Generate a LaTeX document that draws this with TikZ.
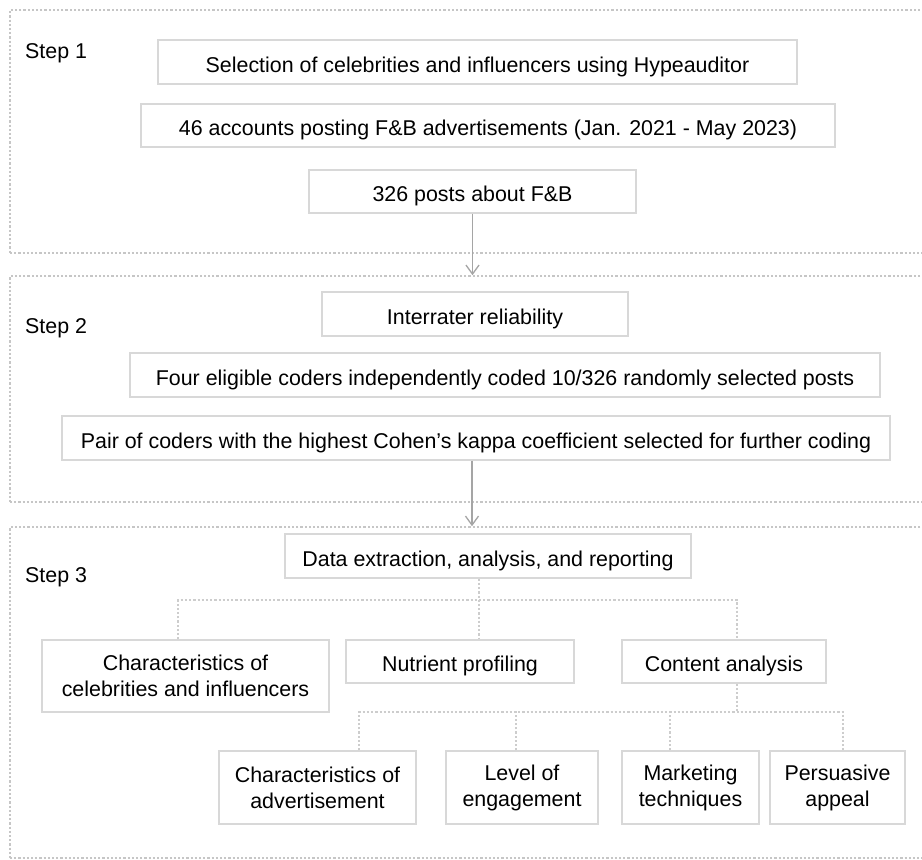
\documentclass[tikz,border=0pt]{standalone}
\usepackage{fontspec}
\setmainfont{Liberation Sans}
\usetikzlibrary{arrows.meta}
\definecolor{boxline}{RGB}{216,216,216}
\definecolor{frameline}{RGB}{198,198,198}
\definecolor{treeline}{RGB}{205,205,205}
\definecolor{arrline}{RGB}{165,165,165}
\tikzset{
  every node/.style={font=\fontsize{21.4}{26}\selectfont},
  stepbox/.style={draw=boxline, line width=1.4pt, fill=white, align=center, inner sep=0pt, text=black},
  oneline/.style={stepbox, text height=20pt, text depth=0pt},
  twoline/.style={stepbox},
  framebox/.style={draw=frameline, line width=1.6pt, dash pattern=on 2.2pt off 2pt, inner sep=0pt},
  treelink/.style={draw=treeline, line width=1.4pt, dash pattern=on 2.2pt off 2pt},
  arrowlink/.style={draw=arrline, line width=1.3pt, -{Straight Barb[length=9pt,width=13pt,line width=1.3pt]}},
  steplabel/.style={anchor=base west, inner sep=0pt}
}
\begin{document}
\begin{tikzpicture}[x=1pt,y=-1pt]
\useasboundingbox[fill=white] (0,0) rectangle (922,860);
% frames
\node[framebox, minimum width=930pt, minimum height=243pt] (s1) at (475,131.5) {};
\node[framebox, minimum width=930pt, minimum height=226pt] (s2) at (475,389) {};
\node[framebox, minimum width=930pt, minimum height=331pt] (s3) at (475,692.5) {};
% step labels
\node[steplabel] (l1) at (25,58) {Step 1};
\node[steplabel] (l2) at (25,333) {Step 2};
\node[steplabel] (l3) at (25,582) {Step 3};
% step 1
\node[oneline, minimum width=639pt, minimum height=44pt] (sel) at (477.5,62) {Selection of celebrities and influencers using Hypeauditor};
\node[oneline, minimum width=694pt, minimum height=43pt] (acc) at (488,125.5) {46 accounts posting F\&B advertisements (Jan. 2021 - May 2023)};
\node[oneline, minimum width=327pt, minimum height=43pt] (posts) at (472.5,191.5) {326 posts about F\&B};
% step 2
\node[oneline, minimum width=306pt, minimum height=44pt] (inter) at (475,314) {Interrater reliability};
\node[oneline, minimum width=750pt, minimum height=44pt] (four) at (505,375) {Four eligible coders independently coded 10/326 randomly selected posts};
\node[oneline, minimum width=828pt, minimum height=44pt] (pair) at (476,438) {Pair of coders with the highest Cohen’s kappa coefficient selected for further coding};
% step 3
\node[oneline, minimum width=406pt, minimum height=44pt] (data) at (488,556) {Data extraction, analysis, and reporting};
\node[twoline, minimum width=287pt, minimum height=72pt] (celeb) at (185.5,676) {Characteristics of\\celebrities and influencers};
\node[oneline, minimum width=228pt, minimum height=43pt] (nutr) at (460,661.5) {Nutrient profiling};
\node[oneline, minimum width=204pt, minimum height=43pt] (content) at (724,661.5) {Content analysis};
\node[twoline, minimum width=197pt, minimum height=73pt] (adv) at (317.5,787.5) {Characteristics of\\advertisement};
\node[twoline, minimum width=152pt, minimum height=73pt] (eng) at (522,787.5) {Level of\\engagement};
\node[twoline, minimum width=137pt, minimum height=73pt] (mkt) at (690.5,787.5) {Marketing\\techniques};
\node[twoline, minimum width=135pt, minimum height=73pt] (pers) at (837.5,787.5) {Persuasive\\appeal};
% arrows
\draw[arrowlink] (posts.south) -- (posts.south |- s2.north);
\draw[arrowlink] ([xshift=-4pt]pair.south) -- ([xshift=-4pt]pair.south |- s3.north);
% tree 1
\coordinate (bus1) at (479,600);
\draw[treelink] ([xshift=-9pt]data.south) -- ([xshift=19pt]nutr.north);
\draw[treelink] ([xshift=-7.5pt]celeb.north) |- (bus1) -| ([xshift=13pt]content.north);
% tree 2
\coordinate (bus2) at (737,712);
\draw[treelink] ([xshift=13pt]content.south) -- (bus2);
\draw[treelink] ([xshift=41.5pt]adv.north) |- (bus2) -| ([xshift=5.5pt]pers.north);
\draw[treelink] ([xshift=-6pt]eng.north) -- ++(0,-39);
\draw[treelink] ([xshift=-20.5pt]mkt.north) -- ++(0,-39);
\end{tikzpicture}
\end{document}
